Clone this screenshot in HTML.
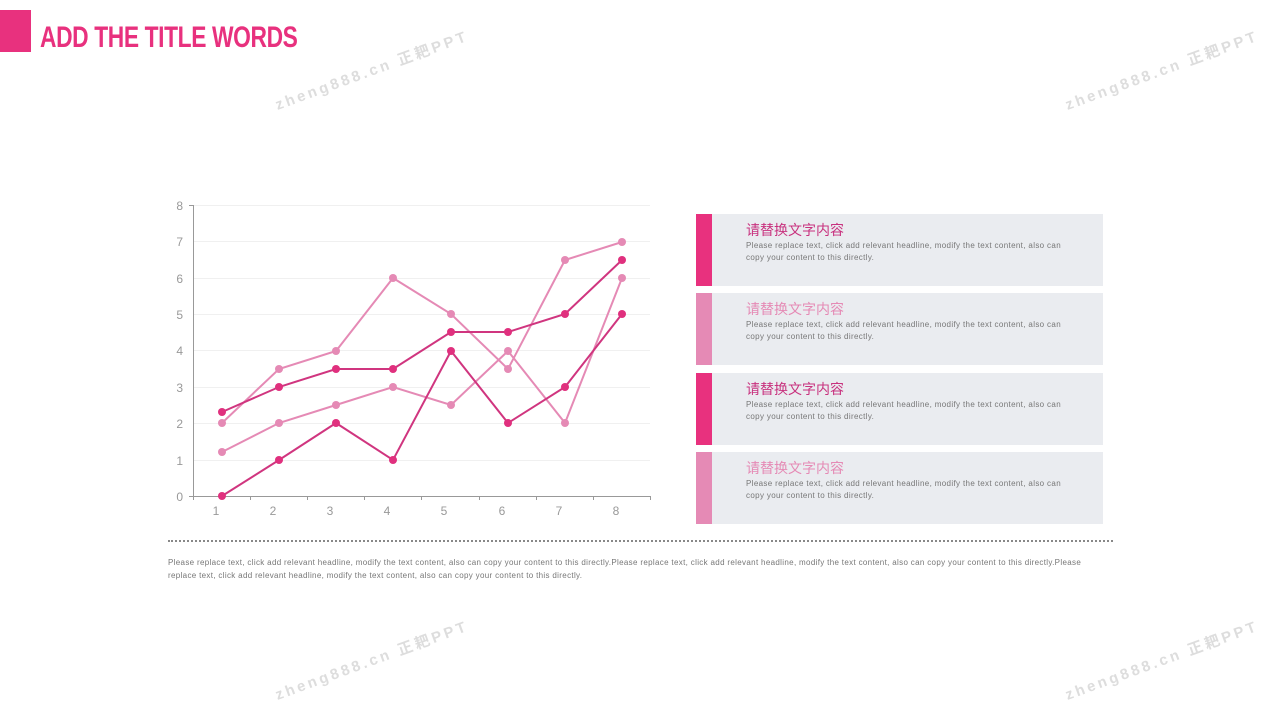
<!DOCTYPE html>
<html><head><meta charset="utf-8"><style>
body{margin:0;width:1280px;height:720px;background:#fff;position:relative;overflow:hidden;font-family:"Liberation Sans","Noto Sans CJK SC",sans-serif}
.sq{position:absolute;left:0;top:10px;width:31px;height:42px;background:#e8317e}
.title{position:absolute;left:40px;top:21px;font-family:"Liberation Sans Narrow","Liberation Sans",sans-serif;font-weight:bold;font-size:30px;color:#e8317e;transform:scaleX(0.76);transform-origin:left top;letter-spacing:-0.5px;white-space:nowrap}
.box{position:absolute;left:696px;width:407px;height:72px;background:#eaecf0}
.box .bar{position:absolute;left:0;top:0;width:16px;height:100%}
.box h3{position:absolute;left:50px;top:6px;margin:0;font-weight:normal;font-size:14px}
.box p{position:absolute;left:50px;top:26px;margin:0;font-size:8px;line-height:12px;color:#777;letter-spacing:0.35px;white-space:nowrap}
.dot{position:absolute;left:168px;top:540px;width:945px;border-top:2px dotted #888}
.foot{position:absolute;left:168px;top:557px;font-size:8px;line-height:12.5px;color:#777;letter-spacing:0.33px;white-space:nowrap}
.wm{position:absolute;font-size:15px;color:#ddd;font-weight:bold;letter-spacing:3px;transform:rotate(-20deg);transform-origin:left top;white-space:nowrap}
</style></head><body>
<div class="sq"></div><div class="title">ADD THE TITLE WORDS</div>
<div class="wm" style="left:272px;top:95px">zheng888.cn 正耙PPT</div>
<div class="wm" style="left:1062px;top:95px">zheng888.cn 正耙PPT</div>
<div class="wm" style="left:272px;top:685px">zheng888.cn 正耙PPT</div>
<div class="wm" style="left:1062px;top:685px">zheng888.cn 正耙PPT</div>
<svg width="1280" height="720" style="position:absolute;left:0;top:0">
<g stroke="#f0f0f0" stroke-width="1">
<line x1="193" x2="650" y1="205.5" y2="205.5"/><line x1="193" x2="650" y1="241.5" y2="241.5"/><line x1="193" x2="650" y1="278.5" y2="278.5"/><line x1="193" x2="650" y1="314.5" y2="314.5"/><line x1="193" x2="650" y1="350.5" y2="350.5"/><line x1="193" x2="650" y1="387.5" y2="387.5"/><line x1="193" x2="650" y1="423.5" y2="423.5"/><line x1="193" x2="650" y1="460.5" y2="460.5"/>
</g>
<g stroke="#999" stroke-width="1">
<line x1="193.5" y1="205" x2="193.5" y2="496"/><line x1="189" y1="205.5" x2="193" y2="205.5"/><line x1="189" y1="496.5" x2="650" y2="496.5"/>
<line x1="193.5" y1="496" x2="193.5" y2="500"/><line x1="250.5" y1="496" x2="250.5" y2="500"/><line x1="307.5" y1="496" x2="307.5" y2="500"/><line x1="364.5" y1="496" x2="364.5" y2="500"/><line x1="421.5" y1="496" x2="421.5" y2="500"/><line x1="479.5" y1="496" x2="479.5" y2="500"/><line x1="536.5" y1="496" x2="536.5" y2="500"/><line x1="593.5" y1="496" x2="593.5" y2="500"/><line x1="650.5" y1="496" x2="650.5" y2="500"/>
</g>
<g font-size="12" fill="#999" text-anchor="end" font-family="Liberation Sans">
<text x="183" y="210">8</text><text x="183" y="246">7</text><text x="183" y="283">6</text><text x="183" y="319">5</text><text x="183" y="355">4</text><text x="183" y="392">3</text><text x="183" y="428">2</text><text x="183" y="465">1</text><text x="183" y="501">0</text>
</g>
<g font-size="12" fill="#999" text-anchor="middle" font-family="Liberation Sans">
<text x="216" y="515">1</text><text x="273" y="515">2</text><text x="330" y="515">3</text><text x="387" y="515">4</text><text x="444" y="515">5</text><text x="502" y="515">6</text><text x="559" y="515">7</text><text x="616" y="515">8</text>
</g>
<g fill="none" stroke-width="2">
<polyline stroke="#e58ab5" points="222,423 279,369 336,351 393,278 451,314 508,369 565,260 622,242"/>
<polyline stroke="#e58ab5" points="222,452 279,423 336,405 393,387 451,405 508,351 565,423 622,278"/>
<polyline stroke="#d0357f" points="222,412 279,387 336,369 393,369 451,332 508,332 565,314 622,260"/>
<polyline stroke="#d0357f" points="222,496 279,460 336,423 393,460 451,351 508,423 565,387 622,314"/>
</g>
<g fill="#e58ab5">
<circle cx="222" cy="423" r="4"/><circle cx="279" cy="369" r="4"/><circle cx="336" cy="351" r="4"/><circle cx="393" cy="278" r="4"/><circle cx="451" cy="314" r="4"/><circle cx="508" cy="369" r="4"/><circle cx="565" cy="260" r="4"/><circle cx="622" cy="242" r="4"/>
<circle cx="222" cy="452" r="4"/><circle cx="279" cy="423" r="4"/><circle cx="336" cy="405" r="4"/><circle cx="393" cy="387" r="4"/><circle cx="451" cy="405" r="4"/><circle cx="508" cy="351" r="4"/><circle cx="565" cy="423" r="4"/><circle cx="622" cy="278" r="4"/>
</g>
<g fill="#e0307e">
<circle cx="222" cy="412" r="4"/><circle cx="279" cy="387" r="4"/><circle cx="336" cy="369" r="4"/><circle cx="393" cy="369" r="4"/><circle cx="451" cy="332" r="4"/><circle cx="508" cy="332" r="4"/><circle cx="565" cy="314" r="4"/><circle cx="622" cy="260" r="4"/>
<circle cx="222" cy="496" r="4"/><circle cx="279" cy="460" r="4"/><circle cx="336" cy="423" r="4"/><circle cx="393" cy="460" r="4"/><circle cx="451" cy="351" r="4"/><circle cx="508" cy="423" r="4"/><circle cx="565" cy="387" r="4"/><circle cx="622" cy="314" r="4"/>
</g>
</svg>
<div class="box" style="top:214px"><div class="bar" style="background:#e8317e"></div><h3 style="color:#c8317e">请替换文字内容</h3><p>Please replace text, click add relevant headline, modify the text content, also can<br>copy your content to this directly.</p></div>
<div class="box" style="top:293px"><div class="bar" style="background:#e58ab5"></div><h3 style="color:#e58ab5">请替换文字内容</h3><p>Please replace text, click add relevant headline, modify the text content, also can<br>copy your content to this directly.</p></div>
<div class="box" style="top:373px"><div class="bar" style="background:#e8317e"></div><h3 style="color:#c8317e">请替换文字内容</h3><p>Please replace text, click add relevant headline, modify the text content, also can<br>copy your content to this directly.</p></div>
<div class="box" style="top:452px"><div class="bar" style="background:#e58ab5"></div><h3 style="color:#e58ab5">请替换文字内容</h3><p>Please replace text, click add relevant headline, modify the text content, also can<br>copy your content to this directly.</p></div>
<div class="dot"></div>
<div class="foot">Please replace text, click add relevant headline, modify the text content, also can copy your content to this directly.Please replace text, click add relevant headline, modify the text content, also can copy your content to this directly.Please<br>replace text, click add relevant headline, modify the text content, also can copy your content to this directly.</div>
</body></html>
